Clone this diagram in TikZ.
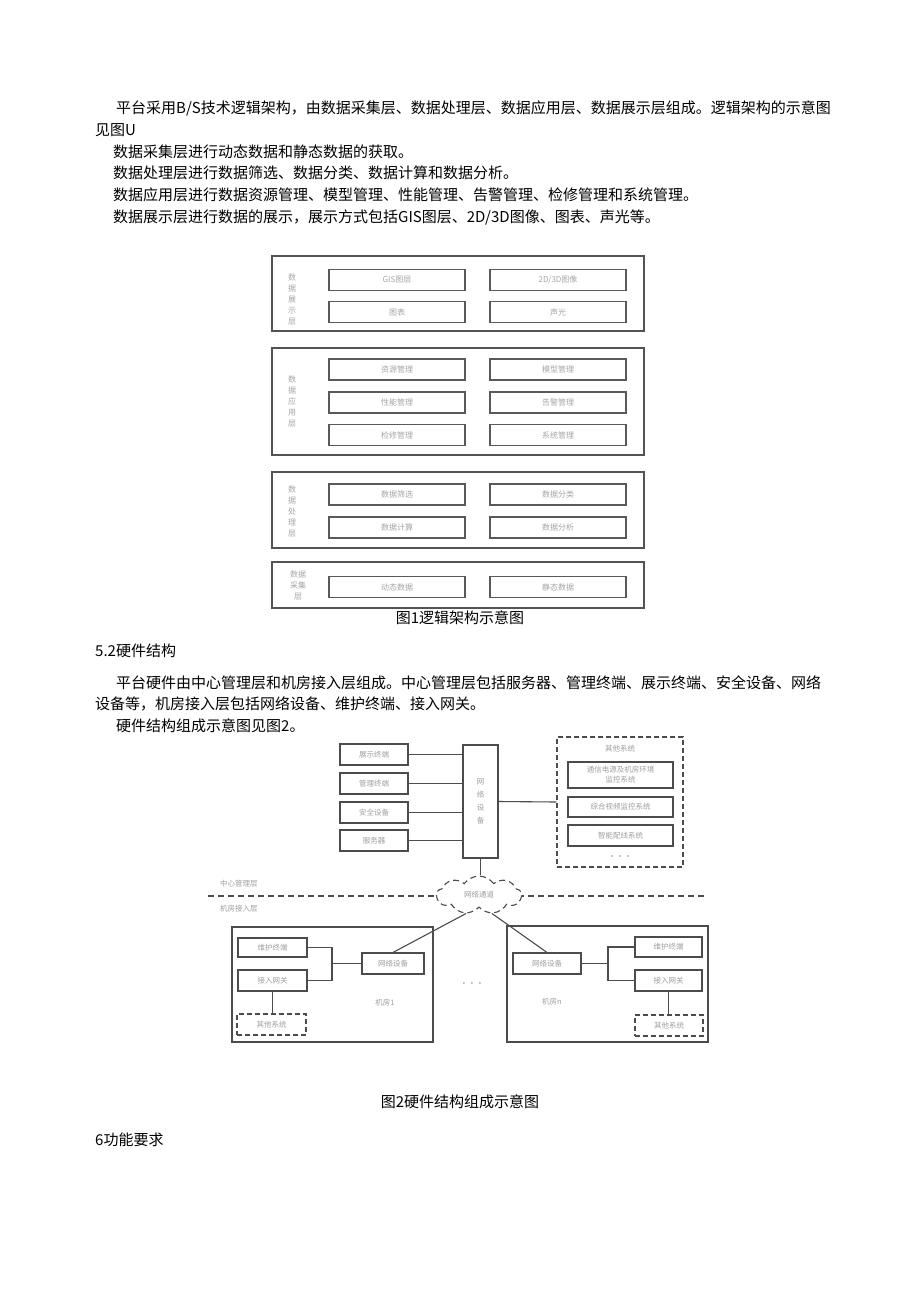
\documentclass[tikz,border=0pt]{standalone}
\usepackage{fontspec}
\setmainfont{Noto Sans CJK SC}
\usetikzlibrary{shapes.symbols}

\begin{document}
\begin{tikzpicture}[x=1pt,y=-1pt,
  para/.style={anchor=west,inner sep=0pt,font=\fontsize{15}{18}\selectfont},
  figcap/.style={inner sep=0pt,font=\fontsize{15}{18}\selectfont},
  layer/.style={draw=gray!65!black,line width=1.3pt,minimum width=372pt,inner sep=0pt},
  item/.style={draw=gray!70!black,line width=1.2pt,minimum width=136pt,minimum height=21pt,inner sep=0pt,font=\fontsize{8}{9}\selectfont,text=gray!70},
  vlabel/.style={align=center,inner sep=0pt,font=\fontsize{8}{11}\selectfont,text=gray!70},
  hw/.style={draw=gray!60!black,line width=1.1pt,minimum height=21pt,inner sep=0pt,align=center,font=\fontsize{7.5}{10}\selectfont,text=gray!75},
  hwdash/.style={hw,dash pattern=on 5pt off 3pt},
  tag/.style={inner sep=0pt,font=\fontsize{7.5}{9}\selectfont,text=gray!75},
  dots/.style={inner sep=0pt,font=\fontsize{12}{12}\selectfont,text=gray!50!black},
  link/.style={draw=gray!60!black,line width=1.1pt}]

  \fill[white] (0,0) rectangle (920,1301);
  \useasboundingbox (0,0) rectangle (920,1301);

  \node[para] (t1) at (116,108) {平台采用B/S技术逻辑架构，由数据采集层、数据处理层、数据应用层、数据展示层组成。逻辑架构的示意图};
  \node[para] (t2) at (95,130) {见图U};
  \node[para] (t3) at (113,152) {数据采集层进行动态数据和静态数据的获取。};
  \node[para] (t4) at (113,173) {数据处理层进行数据筛选、数据分类、数据计算和数据分析。};
  \node[para] (t5) at (113,195) {数据应用层进行数据资源管理、模型管理、性能管理、告警管理、检修管理和系统管理。};
  \node[para] (t6) at (113,217) {数据展示层进行数据的展示，展示方式包括GIS图层、2D/3D图像、图表、声光等。};

  \node[layer,minimum height=75pt] (show) at (458,293.5) {};
  \node[vlabel] (showlbl) at (292,299) {数\\据\\展\\示\\层};
  \node[item] (gis) at (397,280) {GIS图层};
  \node[item] (img) at (558,280) {2D/3D图像};
  \node[item] (chart) at (397,312) {图表};
  \node[item] (sound) at (558,312) {声光};

  \node[layer,minimum height=107pt] (app) at (458,401.5) {};
  \node[vlabel] (applbl) at (292,401) {数\\据\\应\\用\\层};
  \node[item] (res) at (397,369.5) {资源管理};
  \node[item] (model) at (558,369.5) {模型管理};
  \node[item] (perf) at (397,402.5) {性能管理};
  \node[item] (alarm) at (558,402.5) {告警管理};
  \node[item] (repair) at (397,435) {检修管理};
  \node[item] (sys) at (558,435) {系统管理};

  \node[layer,minimum height=76pt] (proc) at (458,510) {};
  \node[vlabel] (proclbl) at (292,511) {数\\据\\处\\理\\层};
  \node[item] (filter) at (397,494.5) {数据筛选};
  \node[item] (sort) at (558,494.5) {数据分类};
  \node[item] (calc) at (397,527.5) {数据计算};
  \node[item] (anal) at (558,527.5) {数据分析};

  \node[layer,minimum height=46pt] (coll) at (458,585) {};
  \node[vlabel] (colllbl) at (298,585) {数据\\采集\\层};
  \node[item] (dyn) at (397,587) {动态数据};
  \node[item] (stat) at (558,587) {静态数据};

  \node[figcap] (cap1) at (460,618) {图1逻辑架构示意图};

  \node[para] (h52) at (95,651) {5.2硬件结构};
  \node[para] (p1) at (116,683) {平台硬件由中心管理层和机房接入层组成。中心管理层包括服务器、管理终端、展示终端、安全设备、网络};
  \node[para] (p2) at (95,704) {设备等，机房接入层包括网络设备、维护终端、接入网关。};
  \node[para] (p3) at (116,726) {硬件结构组成示意图见图2。};

  \node[hw,minimum width=68pt] (disp) at (374,754.5) {展示终端};
  \node[hw,minimum width=68pt] (mgmt) at (374,783.5) {管理终端};
  \node[hw,minimum width=68pt] (sec) at (374,812.5) {安全设备};
  \node[hw,minimum width=68pt] (srv) at (374,840.5) {服务器};
  \node[hw,minimum width=35pt,minimum height=113pt,font=\fontsize{7.5}{13}\selectfont] (net) at (480.5,801.5) {网\\络\\设\\备};

  \node[hwdash,minimum width=126pt,minimum height=130pt] (other) at (620,802) {};
  \node[tag] (othtitle) at (620,749) {其他系统};
  \node[hw,minimum width=105pt,minimum height=26pt] (power) at (620.5,775) {通信电源及机房环境\\监控系统};
  \node[hw,minimum width=105pt,minimum height=20pt] (video) at (620.5,807) {综合视频监控系统};
  \node[hw,minimum width=105pt] (wiring) at (620.5,835.5) {智能配线系统};
  \node[dots] (othdots) at (620,857) {$\cdot\,\cdot\,\cdot$};

  \coordinate (divl) at (208,896);
  \coordinate (divr) at (707,896);
  \draw[link,dash pattern=on 6pt off 4pt] (divl) -- (divr);
  \node[tag,anchor=west] (center) at (220,884) {中心管理层};
  \node[tag,anchor=west] (access) at (220,909) {机房接入层};
  \node[cloud,draw=gray!60!black,line width=1.1pt,dash pattern=on 6pt off 4pt,fill=white,cloud puffs=9,cloud puff arc=110,aspect=2.2,minimum width=85pt,minimum height=38pt,inner sep=0pt,font=\fontsize{7.5}{9}\selectfont,text=gray!75] (chan) at (479,895) {网络通道};

  \draw[link] (disp.east) -- (disp.east -| net.west);
  \draw[link] (mgmt.east) -- (mgmt.east -| net.west);
  \draw[link] (sec.east) -- (sec.east -| net.west);
  \draw[link] (srv.east) -- (srv.east -| net.west);
  \draw[link] (net.east) -- (other.west);
  \draw[link] (net.south) -- (net.south |- chan.north);

  \node[hw,minimum width=201pt,minimum height=115pt] (room1) at (332.5,984.5) {};
  \node[hw,minimum width=69pt,minimum height=19pt] (maint1) at (272.5,947.5) {维护终端};
  \node[hw,minimum width=69pt] (gw1) at (272.5,980.5) {接入网关};
  \node[hwdash,minimum width=69pt] (os1) at (271.5,1024.5) {其他系统};
  \node[hw,minimum width=62pt] (nd1) at (393,963.5) {网络设备};
  \node[tag] (room1lbl) at (385,1003) {机房1};
  \coordinate (br1) at (332,963.5);
  \draw[link] (maint1.east) -| (br1) |- (gw1.east);
  \draw[link] (br1) -- (nd1.west);
  \draw[link] (gw1.south) -- (gw1.south |- os1.north);
  \draw[link] (nd1.north) -- (chan.235);

  \node[dots] (roomdots) at (472,984) {$\cdot\,\cdot\,\cdot$};

  \node[hw,minimum width=201pt,minimum height=116pt] (roomn) at (607.5,984) {};
  \node[hw,minimum width=68pt] (ndn) at (547,963.5) {网络设备};
  \node[hw,minimum width=67pt,minimum height=20pt] (maintn) at (668.5,947) {维护终端};
  \node[hw,minimum width=67pt] (gwn) at (668.5,980.5) {接入网关};
  \node[hwdash,minimum width=68pt] (osn) at (669,1025.5) {其他系统};
  \node[tag] (roomnlbl) at (552,1002) {机房n};
  \coordinate (brn) at (608,963.5);
  \draw[link] (maintn.west) -| (brn) |- (gwn.west);
  \draw[link] (brn) -- (ndn.east);
  \draw[link] (gwn.south) -- (gwn.south |- osn.north);
  \draw[link] (ndn.north) -- (chan.305);

  \node[figcap] (cap2) at (460,1102) {图2硬件结构组成示意图};
  \node[para] (h6) at (95,1140) {6功能要求};

\end{tikzpicture}
\end{document}
